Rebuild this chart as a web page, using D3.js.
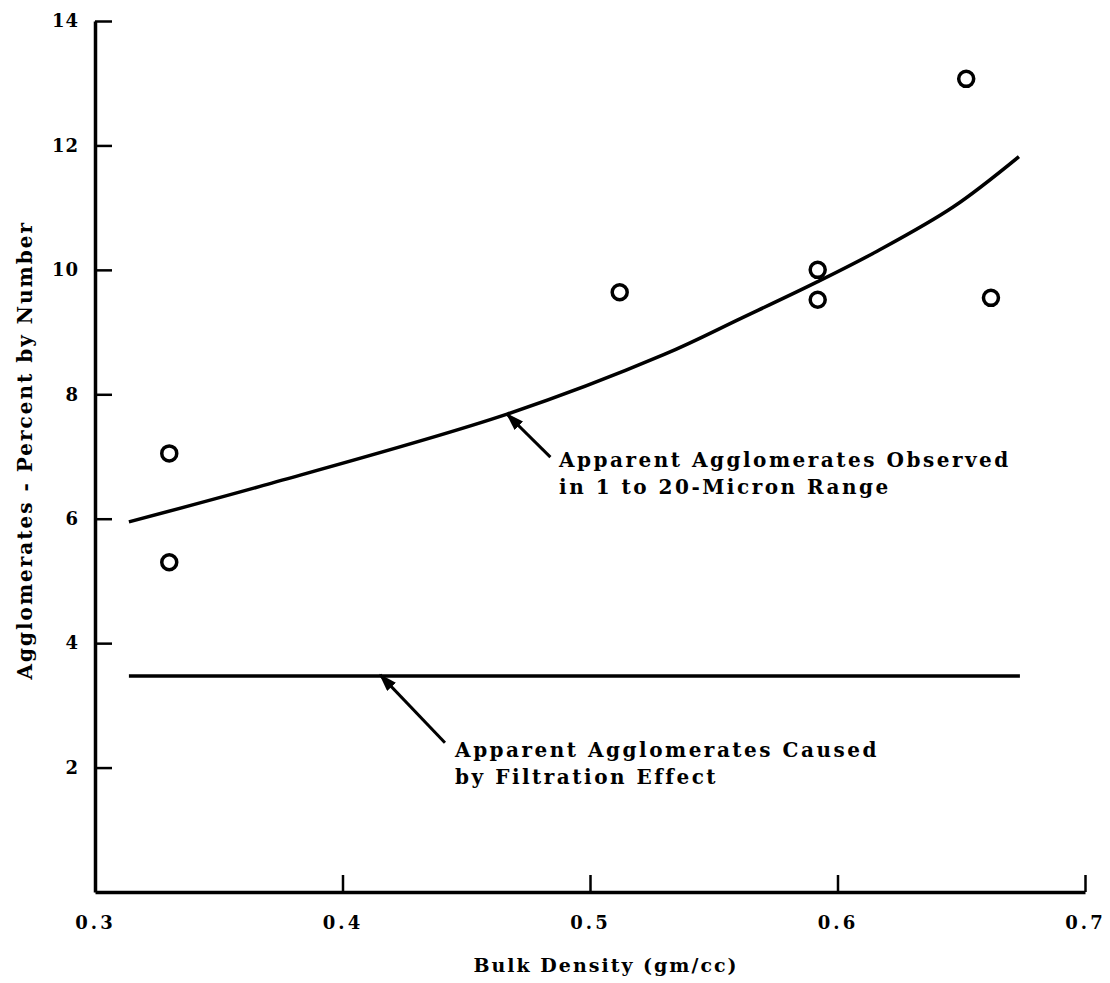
<!DOCTYPE html>
<html>
<head>
<meta charset="utf-8">
<script src="https://d3js.org/d3.v7.min.js"></script>
<style>
	html, body { margin: 0; padding: 0; background: #fff; }
	svg text { font-family: 'DejaVu Serif', serif; font-weight: bold; fill: #000; }
</style>
</head>
<body>
<script>
// Data
const xTicks = [0.3, 0.4, 0.5, 0.6, 0.7];
const yTicks = [2, 4, 6, 8, 10, 12, 14];

// Measured samples (bulk density, agglomerates %)
const sampleDensity = [0.330, 0.330, 0.512, 0.592, 0.592, 0.652, 0.662];
const sampleAgglom = [7.05, 5.30, 9.64, 10.0, 9.52, 13.07, 9.55];

// Fitted curve, points
const curveDensity = [0.3137, 0.3667, 0.4665, 0.530, 0.561, 0.592, 0.616, 0.6467, 0.6733];
const curveAgglom = [5.95, 6.52, 7.68, 8.64, 9.22, 9.81, 10.3, 11.01, 11.82];

// Filtration effect level
const filterDensity = [0.3137, 0.6737];
const filterAgglom = [3.47, 3.47];

// Callout labels: [tipX, tipY, tailX, tailY, textX, textY]
const calloutLines = [
	['Apparent Agglomerates Observed', 'in 1 to 20-Micron Range'],
	['Apparent Agglomerates Caused', 'by Filtration Effect']
];
const calloutAnchors = [
	[0.4665, 7.68, 0.484, 6.99, 0.4875, 6.83],
	[0.4152, 3.49, 0.4414, 2.40, 0.4455, 2.17]
];

const width = 1110, height = 983;
const svg = d3.select('body').append('svg')
	.attr('width', width)
	.attr('height', height);

const x = d3.scaleLinear().domain([0.3, 0.7]).range([95, 1085]);
const y = d3.scaleLinear().domain([0, 14]).range([892, 21]);

svg.append('defs').append('marker')
	.attr('id', 'arrowhead')
	.attr('viewBox', '0 0 12 8')
	.attr('refX', 11).attr('refY', 4)
	.attr('markerWidth', 6).attr('markerHeight', 4)
	.attr('orient', 'auto')
	.append('path')
	.attr('d', 'M0,0 L12,4 L0,8 Z')
	.attr('fill', '#000');

// Axes
const xAxis = svg.append('g')
	.attr('transform', 'translate(0,' + y(0) + ')')
	.call(d3.axisBottom(x).tickValues(xTicks).tickSizeInner(-17).tickSizeOuter(0).tickPadding(24)
		.tickFormat(d3.format('.1f')));

const yAxis = svg.append('g')
	.attr('transform', 'translate(' + x(0.3) + ',0)')
	.call(d3.axisLeft(y).tickValues(yTicks).tickSizeInner(-17).tickSizeOuter(0).tickPadding(16));

[xAxis, yAxis].forEach(g => {
	g.select('.domain').attr('stroke', '#000').attr('stroke-width', 3.5);
	g.selectAll('.tick line').attr('stroke', '#000').attr('stroke-width', 2.5);
	g.selectAll('.tick text').style('font-size', '18px').attr('fill', '#000');
});
xAxis.selectAll('.tick text').style('letter-spacing', '3px');
yAxis.selectAll('.tick text').style('letter-spacing', '1px');
xAxis.selectAll('.tick').filter(d => d === 0.3).select('line').remove();

// Axis titles
svg.append('text')
	.attr('x', 606)
	.attr('y', 972)
	.attr('text-anchor', 'middle')
	.style('font-size', '19px')
	.style('letter-spacing', '2px')
	.text('Bulk Density (gm/cc)');

svg.append('text')
	.attr('transform', 'translate(32,' + y(7.1) + ') rotate(-90)')
	.attr('text-anchor', 'middle')
	.style('font-size', '20px')
	.style('letter-spacing', '2px')
	.text('Agglomerates - Percent by Number');

// Lines
const line = d3.line().x(d => x(d[0])).y(d => y(d[1]));

svg.append('path')
	.datum(d3.zip(curveDensity, curveAgglom))
	.attr('d', line.curve(d3.curveCatmullRom.alpha(0.5)))
	.attr('fill', 'none')
	.attr('stroke', '#000')
	.attr('stroke-width', 3.5);

svg.append('path')
	.datum(d3.zip(filterDensity, filterAgglom))
	.attr('d', d3.line().x(d => x(d[0])).y(d => y(d[1])))
	.attr('fill', 'none')
	.attr('stroke', '#000')
	.attr('stroke-width', 3.5);

// Sample points
svg.selectAll('circle.sample')
	.data(d3.zip(sampleDensity, sampleAgglom))
	.join('circle')
	.attr('class', 'sample')
	.attr('cx', d => x(d[0]))
	.attr('cy', d => y(d[1]))
	.attr('r', 7.5)
	.attr('fill', 'none')
	.attr('stroke', '#000')
	.attr('stroke-width', 3.5);

// Callouts
const callouts = svg.selectAll('g.callout')
	.data(d3.zip(calloutAnchors, calloutLines))
	.join('g')
	.attr('class', 'callout');

callouts.append('line')
	.attr('x1', d => x(d[0][2])).attr('y1', d => y(d[0][3]))
	.attr('x2', d => x(d[0][0])).attr('y2', d => y(d[0][1]))
	.attr('stroke', '#000')
	.attr('stroke-width', 3)
	.attr('marker-end', 'url(#arrowhead)');

callouts.append('text')
	.style('font-size', '20px')
	.style('letter-spacing', '2.5px')
	.selectAll('tspan')
	.data(d => d[1].map((t, i) => ({ t: t, i: i, ax: d[0][4], ay: d[0][5] })))
	.join('tspan')
	.attr('x', d => x(d.ax))
	.attr('y', d => y(d.ay) + d.i * 27)
	.text(d => d.t);
</script>
</body>
</html>
